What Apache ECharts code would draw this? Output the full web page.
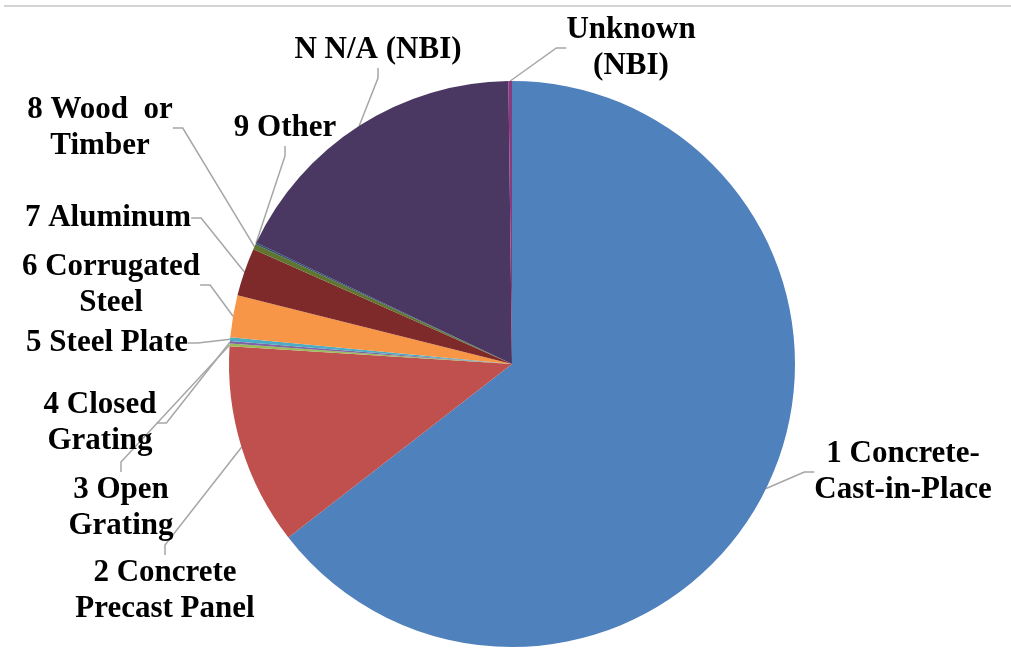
<!DOCTYPE html>
<html>
<head>
<meta charset="utf-8">
<script src="https://cdn.jsdelivr.net/npm/echarts@6/dist/echarts.min.js"></script>
<style>
    html, body { margin: 0; padding: 0; background: #fff; }
    #divChart { width: 1011px; height: 651px; }
</style>
</head>
<body>
<div id="divChart"></div>
<script>
// deck material shares
var categories = [
    '1 Concrete-\nCast-in-Place',
    '2 Concrete\nPrecast Panel',
    '3 Open\nGrating',
    '4 Closed\nGrating',
    '5 Steel Plate',
    '6 Corrugated\nSteel',
    '7 Aluminum',
    '8 Wood  or\nTimber',
    '9 Other',
    'N N/A (NBI)',
    'Unknown\n(NBI)'
];
var values = [64.5, 11.5, 0.15, 0.15, 0.2, 2.4, 2.75, 0.3, 0.1, 17.75, 0.2];
var colors = ['#4F81BD', '#C0504D', '#9BBB59', '#8064A2', '#4BACC6', '#F79646',
    '#7E2A2A', '#5F7530', '#2C4D75', '#4A3862', '#8A3A80'];

// where each label sits (centre of text block)
var labelPos = [
    [903, 472], [165, 591], [121, 508], [100, 423], [107, 343], [111, 285],
    [108, 218], [100, 128], [285, 128], [378, 50], [631, 48]
];

var myChart = echarts.init(document.getElementById('divChart'));

var pieData = [];
categories.forEach(function (name, i) {
    pieData.push({
        name: name,
        value: values[i],
        itemStyle: {color: colors[i]}
    });
});

var option = {
    animation: false,
    backgroundColor: '#fff',
    graphic: [{
        type: 'line',
        shape: {x1: 4, y1: 6, x2: 1011, y2: 6},
        style: {stroke: '#C4C4C4', lineWidth: 1.5}
    }],
    series: [{
        type: 'pie',
        center: [512, 364],
        radius: 283,
        startAngle: 90,
        clockwise: true,
        avoidLabelOverlap: false,
        silent: true,
        itemStyle: {borderWidth: 0},
        label: {
            show: true,
            formatter: '{b}',
            fontFamily: '"Liberation Serif", "Times New Roman", serif',
            fontWeight: 'bold',
            fontSize: 31,
            lineHeight: 36,
            color: '#000',
            align: 'center'
        },
        labelLine: {
            show: true,
            length: 20,
            length2: 10,
            lineStyle: {color: '#A6A6A6', width: 1.5}
        },
        labelLayout: function (params) {
            var p = labelPos[params.dataIndex];
            return {
                x: p[0],
                y: p[1],
                align: 'center',
                verticalAlign: 'middle'
            };
        },
        data: pieData
    }]
};
myChart.setOption(option);
</script>
</body>
</html>
